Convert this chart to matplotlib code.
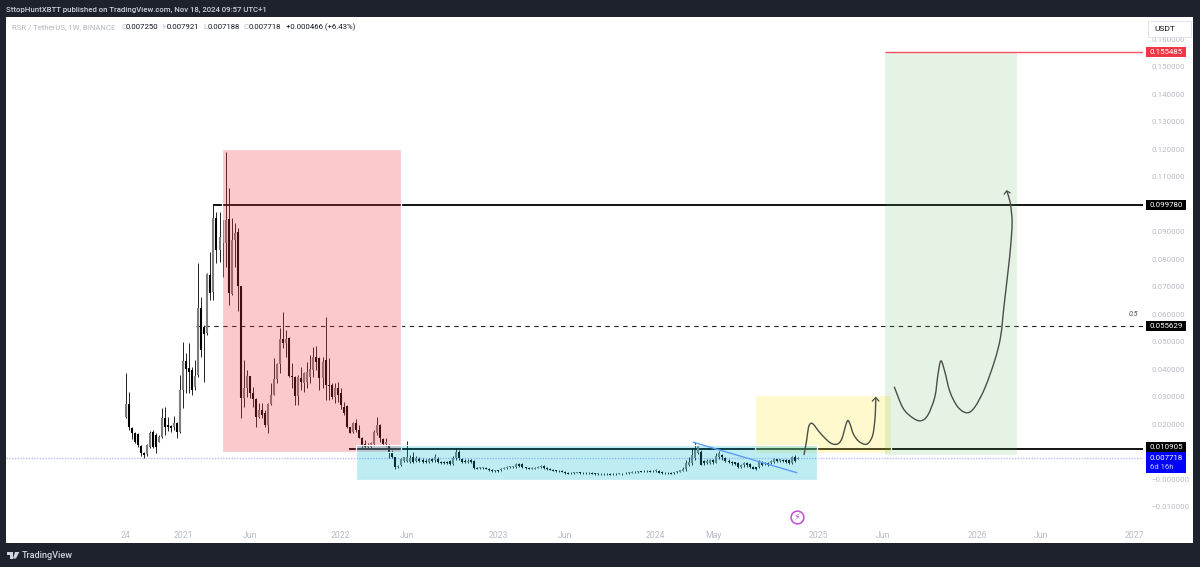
#!/usr/bin/env python3
"""RSR / TetherUS weekly chart, TradingView snapshot with drawn boxes and sketches."""
import numpy as np
import matplotlib
matplotlib.use("Agg")
import matplotlib.pyplot as plt
from matplotlib.patches import Rectangle, Polygon
from matplotlib.path import Path
from matplotlib.patches import PathPatch

plt.rcParams["font.family"] = ["Roboto", "DejaVu Sans"]

# ── weekly candles, in units of 0.001 USDT ───────────────────────────────────
opens = [
    22.7,27.2,18.4,16.9,16.4,12.0,9.6,9.1,11.8,17.1,
    16.0,13.6,15.4,22.1,19.7,19.3,19.1,20.3,17.2,32.4,
    43.0,40.3,39.7,33.6,37.9,62.1,55.5,53.0,74.3,68.2,
    94.9,83.4,86.0,86.0,94.5,67.2,87.0,90.0,70.3,29.4,
    33.0,37.5,31.2,29.0,22.4,25.1,23.9,19.5,27.2,30.6,
    36.3,41.9,51.0,49.4,51.2,37.5,37.3,30.2,36.6,35.1,
    35.4,37.0,39.7,44.3,43.9,36.6,43.3,34.2,34.2,30.0,
    33.0,31.2,26.3,26.7,18.8,17.2,20.3,17.8,14.8,12.7,
    11.8,11.8,12.7,16.6,19.7,14.6,12.7,12.4,9.6,7.9,
    4.2,5.1,6.7,6.7,
    6.3,8.1,6.7,7.2,6.9,6.7,6.3,7.2,6.9,7.3,
    6.3,6.3,6.3,6.4,5.5,7.8,9.9,7.2,6.7,6.1,
    6.9,6.7,4.1,3.9,4.0,4.1,3.6,3.3,2.9,3.2,
    3.2,3.8,4.0,4.2,4.2,4.2,5.6,5.3,4.2,4.0,
    3.8,3.8,4.1,4.2,4.7,4.0,3.6,3.3,3.2,3.0,
    3.0,2.5,2.3,2.1,2.2,2.3,2.4,2.3,2.1,2.3,
    2.2,2.1,1.8,1.9,1.7,1.8,1.8,1.7,1.7,1.8,
    1.9,2.1,2.2,2.3,2.4,2.5,2.8,2.8,3.0,2.9,
    2.8,2.8,3.0,2.5,2.3,2.1,2.3,2.2,2.4,2.7,
    3.0,3.5,5.1,5.7,7.5,9.3,9.9,6.6,5.8,5.9,
    6.8,5.9,8.1,8.6,7.6,6.7,6.3,6.1,5.8,4.5,
    5.0,5.8,5.3,4.5,4.2,4.5,6.3,5.5,5.8,5.7,
    6.3,7.2,6.4,7.0,7.0,6.8,5.7,8.1,7.25,
]
closes = [
    27.2,18.8,16.6,13.6,12.4,9.3,8.7,12.4,16.9,11.8,
    11.8,15.4,22.1,19.1,18.8,18.4,20.3,17.2,32.4,43.0,
    39.9,39.1,32.4,37.5,62.1,47.0,52.8,74.5,67.6,94.9,
    83.4,88.0,94.3,94.3,67.6,87.0,89.7,70.3,29.6,33.0,
    37.5,31.2,29.0,22.4,25.1,23.3,19.5,27.2,30.6,36.3,
    41.9,51.0,49.4,51.0,37.5,37.0,30.2,37.0,35.4,38.7,
    39.1,39.9,44.5,42.7,36.6,42.7,34.2,33.9,30.0,33.0,
    30.6,26.9,23.9,18.8,16.9,20.3,17.8,14.8,12.4,11.5,
    12.4,13.0,17.2,19.7,14.8,12.7,13.6,9.6,7.9,4.5,
    4.9,7.2,7.9,8.1,
    7.5,6.3,7.5,6.7,6.1,6.2,7.2,6.6,7.9,6.1,
    5.9,5.8,5.8,5.5,7.8,9.9,7.5,6.3,6.1,6.7,
    6.1,4.0,3.8,4.2,4.2,3.8,3.2,2.9,3.2,2.8,
    3.8,4.1,4.4,4.6,4.7,5.5,4.7,4.4,3.9,3.8,
    4.0,4.1,4.5,4.7,4.0,3.6,3.4,3.0,2.9,2.8,
    2.7,2.1,1.9,2.3,2.4,2.5,2.2,2.1,2.3,2.1,
    1.9,1.8,2.1,1.7,1.9,1.7,1.6,1.9,1.9,2.1,
    1.7,2.3,2.4,2.5,2.7,2.8,2.7,3.0,2.8,2.7,
    3.0,3.3,2.3,2.2,2.1,2.3,1.9,2.5,2.8,3.2,
    3.8,5.7,6.3,8.7,10.6,12.0,5.2,5.7,6.7,6.8,
    6.1,8.4,9.6,7.9,6.7,6.1,5.7,5.5,4.2,5.2,
    5.8,5.0,4.2,3.8,3.5,6.6,5.2,5.9,5.2,6.6,
    7.2,6.6,7.2,6.4,6.2,5.7,7.9,6.7,7.718,
]
highs = [
    38.5,31.8,18.8,17.2,16.6,12.4,9.9,12.7,17.6,17.8,
    16.6,16.0,25.7,26.3,22.7,19.7,22.9,20.9,37.9,50.0,
    45.7,49.4,40.9,43.3,78.5,66.4,56.1,74.9,82.8,99.7,
    97.3,97.3,94.3,119.2,105.8,94.9,93.1,91.2,70.3,43.3,
    39.7,37.5,33.6,29.4,27.8,27.5,25.1,27.5,34.8,43.9,
    42.1,54.8,60.9,54.2,51.8,42.1,37.5,37.9,40.9,39.1,
    42.7,45.1,48.2,48.4,44.5,44.5,58.9,43.9,34.8,34.8,
    35.4,33.0,28.2,26.9,19.1,20.9,21.7,19.7,15.2,14.2,
    13.0,13.6,17.8,22.7,19.9,15.0,14.8,12.7,10.6,8.1,
    5.1,7.5,8.1,14.0,
    8.7,9.9,8.4,7.9,7.5,7.3,7.5,7.5,9.1,7.9,
    6.7,6.7,6.7,6.9,8.4,11.2,10.6,7.5,7.2,7.2,
    7.2,6.9,4.2,4.4,4.5,4.5,3.9,3.5,3.3,3.3,
    4.0,4.4,4.6,4.7,4.9,5.7,5.7,5.7,4.5,4.2,
    4.2,4.4,4.7,5.0,5.0,4.2,3.9,3.5,3.4,3.3,
    3.3,2.8,2.4,2.4,2.7,2.7,2.5,2.5,2.5,2.4,
    2.4,2.3,2.3,2.2,2.1,2.1,2.1,2.1,2.2,2.2,
    2.2,2.4,2.7,2.8,2.9,3.0,3.0,3.3,3.3,3.2,
    3.3,3.8,3.3,2.8,2.5,2.4,2.4,2.7,3.0,3.4,
    4.2,6.9,8.1,11.2,13.3,12.4,10.6,6.9,7.2,7.3,
    7.3,9.3,10.3,9.1,8.1,7.2,6.7,6.3,6.3,5.5,
    6.2,6.2,5.7,4.7,4.5,6.9,6.7,6.2,6.2,6.9,
    7.5,7.4,7.4,7.4,7.3,7.2,8.4,8.6,7.921,
]
lows = [
    22.1,17.8,14.6,13.2,11.8,8.4,7.5,8.4,11.2,11.2,
    9.3,13.6,14.8,16.0,17.6,17.2,17.8,14.8,16.6,25.7,
    31.2,31.2,30.6,32.4,37.0,44.5,35.4,52.4,65.2,65.2,
    78.5,79.1,73.7,77.3,63.3,67.0,77.3,61.3,22.1,26.3,
    30.0,29.4,26.3,18.8,22.1,22.1,19.1,16.6,26.9,30.6,
    34.8,38.5,47.6,44.5,37.3,33.0,26.9,26.9,32.4,31.8,
    33.0,34.8,37.3,39.7,32.4,33.0,28.8,28.8,29.0,27.5,
    28.2,25.4,23.3,18.4,16.6,16.9,17.2,14.8,11.2,11.2,
    11.2,11.2,12.4,16.0,13.6,12.4,12.1,7.5,7.5,3.5,
    3.9,4.7,6.3,6.3,
    5.7,5.9,6.3,6.3,5.7,5.7,5.7,6.1,6.3,5.7,
    5.5,5.5,5.5,5.1,5.1,6.9,6.9,5.9,5.7,5.7,
    5.7,3.8,3.6,3.8,3.8,3.5,2.9,2.7,2.7,2.7,
    2.9,3.5,3.8,4.0,4.0,4.0,4.2,4.1,3.6,3.5,
    3.5,3.5,3.9,4.0,3.8,3.4,3.2,2.8,2.7,2.5,
    2.4,1.8,1.7,1.8,1.9,2.1,1.9,1.8,1.9,1.8,
    1.7,1.6,1.6,1.5,1.6,1.6,1.5,1.6,1.6,1.7,
    1.6,1.8,1.9,2.1,2.2,2.3,2.4,2.5,2.5,2.4,
    2.5,2.5,2.1,1.9,1.8,1.8,1.7,1.9,2.2,2.4,
    2.8,3.0,4.7,5.1,6.9,9.1,5.1,5.2,5.5,5.5,
    5.5,5.7,7.2,6.9,6.2,5.7,5.2,5.0,3.9,4.1,
    4.5,4.5,3.9,3.5,3.3,4.1,4.7,5.1,4.9,5.3,
    5.9,6.2,6.2,6.2,5.9,5.5,5.5,6.3,7.188,
]

# ── axis labels ──────────────────────────────────────────────────────────────
week_ticks  = [0, 19, 41, 71, 93, 123, 145, 175, 194, 228.5, 250, 281, 302, 333]
week_labels = ["24", "2021", "Jun", "2022", "Jun", "2023", "Jun", "2024", "May",
               "2025", "Jun", "2026", "Jun", "2027"]
price_ticks  = [-0.01, 0.0, 0.02, 0.03, 0.04, 0.05, 0.06, 0.07, 0.08, 0.09,
                0.11, 0.12, 0.13, 0.14, 0.15, 0.16]
price_labels = ["\u22120.010000", "\u22120.000000", "0.020000", "0.030000", "0.040000",
                "0.050000", "0.060000", "0.070000", "0.080000", "0.090000",
                "0.110000", "0.120000", "0.130000", "0.140000", "0.150000", "0.160000"]

# ── levels and drawn boxes (week index, price) ───────────────────────────────
last_close = 0.007718
level_high, level_mid, level_low, level_target = 0.099780, 0.055629, 0.010905, 0.155485

red_box    = (31.9, 90.8, 0.0098, 0.1202)
blue_box   = (76.2, 228.3, -0.00036, 0.01238)
yellow_box = (207.6, 252.5, 0.0096, 0.0306)
green_box  = (250.6, 294.2, 0.0087, 0.155485)

trend_x = [187.4, 221.5]
trend_y = [0.01336, 0.0023]

# hand-drawn sketches
sketch1_x = [223.9, 224.8, 225.4, 226.2, 227.2, 228.6, 230.9, 232.7, 234.2, 235.5,
             236.6, 237.6, 238.4, 239.2, 240.2, 241.9, 244.1, 245.5, 246.6, 247.2, 247.5, 247.6]
sketch1_y = [.00874, .0142, .0188, .0203, .0197, .0176, .0148, .0131, .0126, .0131,
             .0152, .0193, .0213, .0197, .0164, .0138, .0126, .0135, .0160, .0203, .0251, .0294]
head1_x = [246.5, 247.6, 248.6]
head1_y = [.0284, .0297, .0284]

sketch2_x = [253.7, 256.6, 259.9, 262.5, 264.8, 267.1, 268.1, 269.1, 270.4, 272.1, 274.7,
             277.7, 280.3, 283.6, 286.9, 288.8, 289.9, 291.3, 292.1, 292.6, 292.1, 291.3, 290.8]
sketch2_y = [.0336, .0258, .0222, .0212, .0233, .0299, .0379, .0430, .0390, .0317, .0262,
             .0241, .0262, .0331, .0433, .0518, .0627, .0761, .0846, .0932, .0997, .1034, .1049]
head2_x = [290.0, 290.8, 291.9]
head2_y = [.1037, .1049, .1042]

# ── look ─────────────────────────────────────────────────────────────────────
W, H = 1200, 567
DARK   = "#1e222d"
AXIS_C = "#b8bbc4"
UP_C   = "#7d7d7d"
DN_C   = "#000000"
TAG_FS = 5.7

def fx(px): return px / W
def fy(py): return 1 - py / H

fig = plt.figure(figsize=(W / 100, H / 100), dpi=100, facecolor=DARK)
fig.add_artist(Rectangle((fx(6), fy(543)), 1187 / W, 526 / H, transform=fig.transFigure,
                         fc="white", ec="none", zorder=-1))

ax = fig.add_axes([fx(6), fy(527), 1137 / W, 510 / H], zorder=1)
ax.patch.set_alpha(0)
for s in ax.spines.values():
    s.set_visible(False)
ax.set_xlim(-39.47, 335.8)
ax.set_ylim(-0.01747, 0.16818)

ax.yaxis.tick_right()
ax.set_yticks(price_ticks, price_labels)
ax.set_xticks(week_ticks, week_labels)
ax.tick_params(axis="y", length=0, pad=5.8, labelsize=5.7, labelcolor=AXIS_C)
ax.tick_params(axis="x", length=0, pad=3, labelsize=6.2, labelcolor=AXIS_C)

# candles
o = np.array(opens) / 1000
c = np.array(closes) / 1000
hi = np.array(highs) / 1000
lo = np.array(lows) / 1000
x = np.arange(len(o))
up = c >= o
ax.vlines(x, lo, hi, colors="#222222", lw=0.7, zorder=2)
ax.vlines(x[up], o[up], c[up], colors=UP_C, lw=1.5, zorder=2.1)
ax.vlines(x[~up], c[~up], o[~up], colors=DN_C, lw=1.5, zorder=2.1)

# levels
ax.axhline(last_close, color="#b9b9ff", lw=1.0, ls=(0, (1, 1)), zorder=1.5)
ax.hlines(level_high, 28.8, 335.8, color="black", lw=1.3, zorder=2)
ax.hlines(level_mid, 23.2, 335.8, color="#222222", lw=0.8, ls=(0, (4, 4)), zorder=2)
ax.hlines(level_low, 73.7, 335.8, color="black", lw=1.3, zorder=2)
ax.hlines(level_target, 250.6, 335.8, color="#f7525f", lw=1.0, zorder=4)
ax.text(334.2, 0.0600, "0.5", fontsize=5, style="italic", color="#444444", ha="right", va="center")

# boxes sit on top of the candles
def box(b, rgba, zo, edge="white"):
    ax.add_patch(Rectangle((b[0], b[2]), b[1] - b[0], b[3] - b[2], fc=rgba, ec=edge, lw=0.9, zorder=zo))

box(red_box,    (0.949, 0.212, 0.271, 0.27), 3)
box(yellow_box, (1.0, 0.922, 0.231, 0.25), 3.1)
box(green_box,  (0.298, 0.686, 0.314, 0.15), 3.2, edge="none")
box(blue_box,   (0.0, 0.737, 0.831, 0.26), 3.3)

ax.plot(trend_x, trend_y, color="#5b9cf6", lw=1.0, zorder=4)

def sketch(xs, ys):
    # catmull-rom through the points
    pts = np.column_stack([xs, ys])
    verts, codes = [pts[0]], [Path.MOVETO]
    for i in range(len(pts) - 1):
        p0 = pts[max(i - 1, 0)]
        p1, p2 = pts[i], pts[i + 1]
        p3 = pts[min(i + 2, len(pts) - 1)]
        verts += [p1 + (p2 - p0) / 6, p2 - (p3 - p1) / 6, p2]
        codes += [Path.CURVE4] * 3
    ax.add_patch(PathPatch(Path(verts, codes), fc="none", ec="#4a4f4a", lw=1.0, zorder=5))

sketch(sketch1_x, sketch1_y)
ax.plot(head1_x, head1_y, color="#4a4f4a", lw=0.9, zorder=5)
sketch(sketch2_x, sketch2_y)
ax.plot(head2_x, head2_y, color="#4a4f4a", lw=0.9, zorder=5)

# lightning mark under the last candle
ax.plot([221.5], [-0.0138], "o", ms=9.2, mfc="none", mec="#c04fd3", mew=1.1, zorder=6, clip_on=False)
ax.text(221.5, -0.0138, "\u26a1", fontsize=7, color="#c04fd3", ha="center", va="center",
        family="DejaVu Sans", zorder=6)

# price tags on the scale
trans = ax.get_yaxis_transform()
def tag(val, fc, txt, h=0.0037):
    ax.add_patch(Rectangle((1.0026, val - h / 2), 40.5 / 1137, h, transform=trans, fc=fc, ec="none",
                           clip_on=False, zorder=7))
    ax.text(1.0026 + 20.2 / 1137, val, txt, transform=trans, color="white", fontsize=TAG_FS,
            ha="center", va="center", clip_on=False, zorder=8)

tag(level_target, "#f23645", "0.155485")
tag(level_high, "black", "0.099780")
tag(level_mid, "black", "0.055629")
tag(0.01165, "black", "0.010905")
ax.add_patch(Rectangle((1.0026, 0.0022), 40.5 / 1137, 0.0076, transform=trans, fc="#0000ff", ec="none",
                       clip_on=False, zorder=7))
ax.text(1.0026 + 20.2 / 1137, 0.00765, "0.007718", transform=trans, color="white", fontsize=TAG_FS,
        ha="center", va="center", zorder=8, clip_on=False)
ax.text(1.0026 + 4 / 1137, 0.0042, "6d 16h", transform=trans, color="#c8c8ff", fontsize=5.6,
        ha="left", va="center", zorder=8, clip_on=False)

# USDT box over the top of the scale
fig.add_artist(Rectangle((fx(1147.5), fy(37)), 43 / W, 16.5 / H, transform=fig.transFigure,
                         fc="white", ec="#e0e3eb", lw=0.7, zorder=5))
fig.text(fx(1154), fy(29), "USDT", fontsize=6.0, color="#131722", va="center", zorder=6)

# header
fig.text(fx(6.5), fy(10), "SttopHuntXBTT published on TradingView.com, Nov 18, 2024 09:57 UTC+1",
         fontsize=5.55, color="#d1d4dc", va="center", weight="medium")

LEG_G = "#b2b5be"
fig.text(fx(12), fy(27), "RSR / TetherUS, 1W, BINANCE", fontsize=5.6, color=LEG_G, va="center")
for px, s in [(121.5, "O"), (162, "H"), (203, "L"), (244, "C")]:
    fig.text(fx(px), fy(27), s, fontsize=5.6, color=LEG_G, va="center")
for px, s in [(126, "0.007250"), (167, "0.007921"), (207.5, "0.007188"), (248.5, "0.007718"),
              (285.5, "+0.000466 (+6.43%)")]:
    fig.text(fx(px), fy(27), s, fontsize=5.6, color="#131722", va="center")

# footer logo
logo_c = "#d1d4dc"
pix = lambda pts: [(fx(a), fy(b)) for a, b in pts]
fig.add_artist(Polygon(pix([(7, 552), (12.5, 552), (12.5, 558.5), (9.5, 558.5), (9.5, 554.5), (7, 554.5)]),
                       transform=fig.transFigure, fc=logo_c, ec="none"))
fig.add_artist(Polygon(pix([(15, 552), (19.3, 552), (16, 558.5), (13, 558.5)]),
                       transform=fig.transFigure, fc=logo_c, ec="none"))
fig.text(fx(22), fy(555.5), "TradingView", fontsize=6.6, color=logo_c, va="center", weight="medium")

fig.savefig("out.png", dpi=100, facecolor=DARK)
